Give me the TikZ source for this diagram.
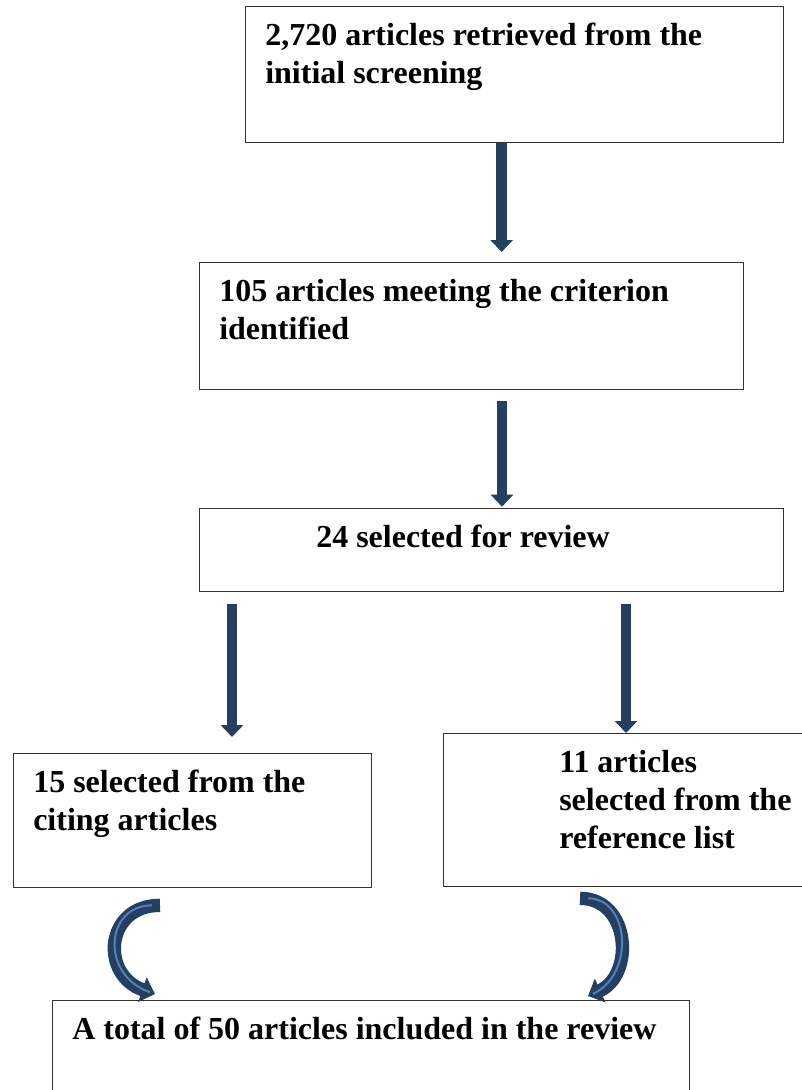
\documentclass[tikz,border=0pt]{standalone}
\usepackage{fontspec}
\setmainfont{Liberation Serif}
\usetikzlibrary{arrows.meta}
\definecolor{Navy}{HTML}{243F60}
\definecolor{Sky}{HTML}{4F81BD}
\def\px{0.75pt}

\begin{document}
\begin{tikzpicture}[x=0.75pt,y=-0.75pt,
    box/.style={draw=black!80,line width=1pt,anchor=north west,inner sep=0pt},
    boxtext/.style={anchor=north west,inner sep=0pt,align=left,
      font=\bfseries\fontsize{24}{28.5}\selectfont},
    flow/.style={Navy,line width=8pt,-{Triangle[width=16.5pt,length=9pt]}},
    curl/.style={Navy,line width=10pt,-{Triangle[width=19pt,length=10pt]}},
    shine/.style={Sky,line width=1.5pt}]
    \useasboundingbox[fill=white] (0,0) rectangle (802,1090);
    % boxes
    \node[box,minimum width=538*\px,minimum height=136*\px] (retrieved) at (245,6) {};
    \node[box,minimum width=544*\px,minimum height=127*\px] (meeting) at (199,262) {};
    \node[box,minimum width=584*\px,minimum height=83*\px] (selected) at (199,508) {};
    \node[box,minimum width=358*\px,minimum height=134*\px] (citing) at (13,753) {};
    \node[box,minimum width=370*\px,minimum height=153*\px] (reference) at (443,733) {};
    \node[box,minimum width=637*\px,minimum height=120*\px] (total) at (52,1000) {};
    % texts
    \node[boxtext] (retrievedtext) at ([shift={(20,17)}]retrieved.north west)
      {2,720 articles retrieved from the\\initial screening};
    \node[boxtext] (meetingtext) at ([shift={(20,17)}]meeting.north west)
      {105 articles meeting the criterion\\identified};
    \node[boxtext] (selectedtext) at ([shift={(117,17)}]selected.north west)
      {24 selected for review};
    \node[boxtext] (citingtext) at ([shift={(20,17)}]citing.north west)
      {15 selected from the\\citing articles};
    \node[boxtext] (referencetext) at ([shift={(116,17)}]reference.north west)
      {11 articles\\selected from the\\reference list};
    \node[boxtext] (totaltext) at ([shift={(20,17)}]total.north west)
      {A total of 50 articles included in the review};
    % straight arrows
    \coordinate (a1) at ([xshift=-13*\px]retrieved.south);
    \coordinate (a2) at ([shift={(303,11)}]meeting.south west);
    \coordinate (a3) at ([shift={(33,12)}]selected.south west);
    \coordinate (a4) at ([shift={(427,12)}]selected.south west);
    \draw[flow,shorten >=7.5pt] (a1) -- (a1 |- meeting.north);
    \draw[flow,shorten >=1pt] (a2) -- (a2 |- selected.north);
    \draw[flow,shorten >=12pt] (a3) -- (a3 |- citing.north);
    \draw[flow] (a4) -- (a4 |- reference.north);
    % curved arrows
    \coordinate (c1) at ([shift={(147,17)}]citing.south west);
    \coordinate (c2) at ([shift={(103,-6)}]total.north west);
    \coordinate (c3) at ([shift={(137,11)}]reference.south west);
    \coordinate (c4) at ([shift={(536,-4)}]total.north west);
    \draw[curl] (c1) .. controls +(-55,0) and +(-55,-19) .. (c2);
    \draw[shine,shorten <=6pt,shorten >=4pt] (c1) .. controls +(-55,0) and +(-55,-19) .. (c2);
    \draw[curl] (c3) .. controls +(50,0) and +(47,-21) .. (c4);
    \draw[shine,shorten <=6pt,shorten >=4pt] (c3) .. controls +(50,0) and +(47,-21) .. (c4);
\end{tikzpicture}
\end{document}
